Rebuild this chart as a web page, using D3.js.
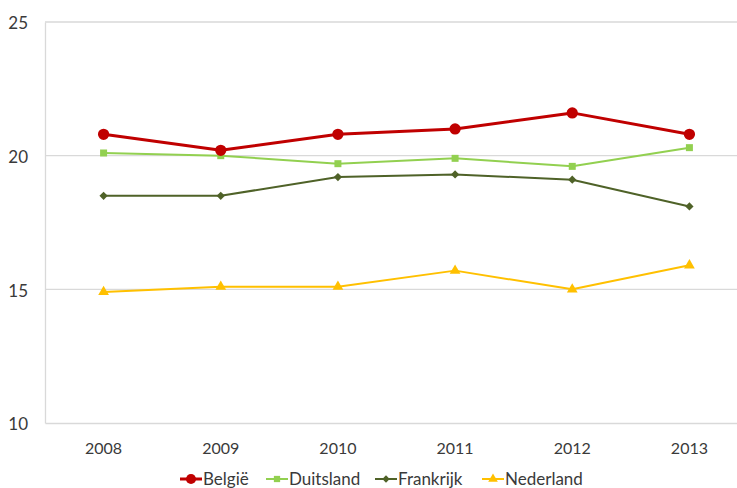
<!DOCTYPE html>
<html>
<head>
<meta charset="utf-8">
<script src="https://cdn.jsdelivr.net/npm/d3@7"></script>
<style>
  html, body { margin: 0; padding: 0; background: #fff; }
  svg { display: block; }
  text { font-family: Lato, "Open Sans", "Liberation Sans", sans-serif; fill: #3a3a3a; }
</style>
</head>
<body>
<svg id="chart" width="737" height="488"></svg>
<script>
const years = ["2008", "2009", "2010", "2011", "2012", "2013"];
const seriesNames = ["België", "Duitsland", "Frankrijk", "Nederland"];
const belgie    = [20.8, 20.2, 20.8, 21.0, 21.6, 20.8];
const duitsland = [20.1, 20.0, 19.7, 19.9, 19.6, 20.3];
const frankrijk = [18.5, 18.5, 19.2, 19.3, 19.1, 18.1];
const nederland = [14.9, 15.1, 15.1, 15.7, 15.0, 15.9];
const yTicks = [10, 15, 20, 25];

const styles = [
  { color: "#C00000", width: 3, marker: d3.symbolCircle,   size: 100, rot: 0 },
  { color: "#92D050", width: 2, marker: d3.symbolSquare,   size: 49,  rot: 0 },
  { color: "#4F6228", width: 2, marker: d3.symbolSquare,   size: 34,  rot: 45 },
  { color: "#FFC000", width: 2, marker: d3.symbolTriangle, size: 50,  rot: 0 }
];
const allValues = [belgie, duitsland, frankrijk, nederland];
const series = seriesNames.map((name, i) => ({ name, values: allValues[i], style: styles[i] }));

const svg = d3.select("#chart");
const mLeft = 45, mRight = 748, mTop = 22, mBottom = 423;

const x = d3.scaleBand().domain(years).range([mLeft, mRight]).padding(0);
const xc = d => x(d) + x.bandwidth() / 2;
const y = d3.scaleLinear().domain([10, 25]).range([mBottom, mTop]);

// gridlines
svg.append("g").selectAll("line").data(yTicks.filter(t => t > 10)).join("line")
  .attr("x1", mLeft).attr("x2", mRight)
  .attr("y1", d => y(d)).attr("y2", d => y(d))
  .attr("stroke", "#d9d9d9").attr("stroke-width", 1.3);

// y axis
const yAxis = svg.append("g").attr("transform", `translate(${mLeft},0)`)
  .call(d3.axisLeft(y).tickValues(yTicks).tickSize(0).tickPadding(17).tickFormat(d3.format("d")));
yAxis.select(".domain").attr("stroke", "#d9d9d9").attr("stroke-width", 1.3);
yAxis.selectAll("text").style("font-size", "17px").attr("fill", "#3a3a3a").attr("dy", "0.4em");

// x axis
const xAxis = svg.append("g").attr("transform", `translate(0,${mBottom})`)
  .call(d3.axisBottom(x).tickSize(0).tickPadding(20));
xAxis.select(".domain").attr("stroke", "#d9d9d9").attr("stroke-width", 1.3);
xAxis.selectAll("text").style("font-size", "16px").attr("fill", "#3a3a3a");

// lines
const line = d3.line().x((d, i) => xc(years[i])).y(d => y(d));
const g = svg.append("g");
series.slice().reverse().forEach(s => {
  g.append("path").datum(s.values)
    .attr("d", line).attr("fill", "none")
    .attr("stroke", s.style.color).attr("stroke-width", s.style.width)
    .attr("stroke-linejoin", "round");
  g.append("g").selectAll("path").data(s.values).join("path")
    .attr("transform", (d, i) => `translate(${xc(years[i])},${y(d)}) rotate(${s.style.rot})`)
    .attr("d", d3.symbol().type(s.style.marker).size(s.style.size))
    .attr("fill", s.style.color);
});

// legend
const legendX = [180, 266, 375, 482];
const legendY = 479;
const lg = svg.append("g");
series.forEach((s, i) => {
  const item = lg.append("g").attr("transform", `translate(${legendX[i]},${legendY})`);
  item.append("line").attr("x1", 0).attr("x2", 22).attr("y1", 0).attr("y2", 0)
    .attr("stroke", s.style.color).attr("stroke-width", s.style.width);
  item.append("path").attr("transform", `translate(11,0) rotate(${s.style.rot})`)
    .attr("d", d3.symbol().type(s.style.marker).size(s.style.size * 0.8))
    .attr("fill", s.style.color);
  item.append("text").attr("x", 23).attr("y", 0).attr("dy", "0.36em")
    .style("font-size", "17px").text(s.name);
});
</script>
</body>
</html>
